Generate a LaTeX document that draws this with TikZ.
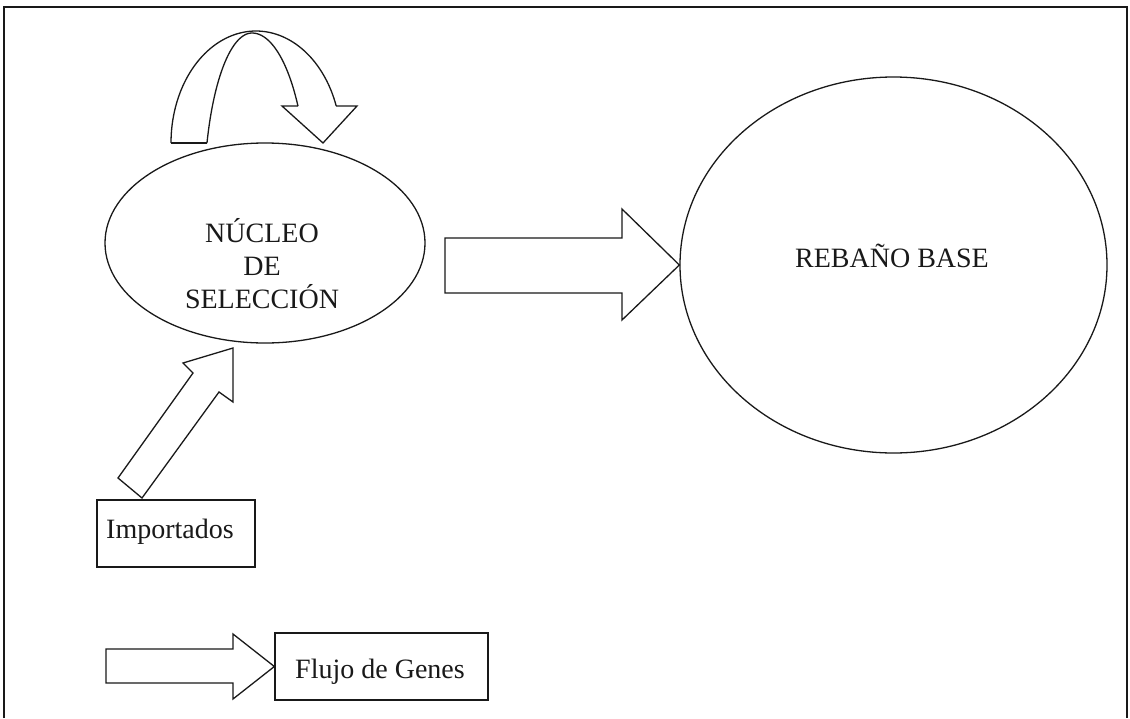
\documentclass[tikz,border=0pt]{standalone}
\usepackage{fontspec}
\setmainfont{Liberation Serif}
\usetikzlibrary{shapes.geometric}
\tikzset{
  shp/.style={draw=black!90, line width=1.3pt, line join=miter},
  ell/.style={shp, ellipse, inner sep=0pt},
  boxn/.style={shp, rectangle, inner sep=0pt},
  lbl/.style={font=\fontsize{28}{33}\selectfont, inner sep=0pt, anchor=base, text=black!90}
}
\begin{document}
\begin{tikzpicture}[x=1pt,y=-1pt]
\useasboundingbox (0,0) rectangle (1130,718);
% frame (open at the bottom)
\draw[shp, line width=1.5pt] (4,718) -- (4,7) -- (1127,7) -- (1127,718);

% main shapes
\node[ell, minimum width=320pt, minimum height=200pt] (nucleo) at (265,243) {};
\node[ell, minimum width=427pt, minimum height=376pt] (rebano) at (893.5,265) {};
\node[boxn, minimum width=158pt, minimum height=67pt] (import) at (176,533.5) {};
\node[boxn, minimum width=213pt, minimum height=67pt] (flujo) at (381.5,666.5) {};

% labels
\node[lbl] (t1) at (262,242) {NÚCLEO};
\node[lbl] (t2) at (262,275) {DE};
\node[lbl] (t3) at (262,308) {SELECCIÓN};
\node[lbl] (t4) at (892,267) {REBAÑO BASE};
\node[lbl] (t5) at (170,538) {Importados};
\node[lbl] (t6) at (380,678) {Flujo de Genes};

% block arrow: nucleo -> rebano
\draw[shp] (445,238) -- (622,238) -- (622,209) -- (rebano.west) -- (622,320) -- (622,293) -- (445,293) -- cycle;

% block arrow: legend
\draw[shp] (106,649) -- (233,649) -- (233,634) -- (flujo.west) -- (233,699) -- (233,683) -- (106,683) -- cycle;

% diagonal block arrow: importados -> nucleo
\coordinate (dtip) at (233,348);
\draw[shp] (142,498) -- (219,392) -- (233,402) -- (dtip) -- (183,363) -- (193,373) -- (118,478) -- cycle;

% curved arrow above the nucleus
\draw[shp] (171,143) -- (207,143);
\draw[shp] plot[domain=180:19.3, samples=80] ({256+85*cos(\x)},{143-112*sin(\x)});
\draw[shp] plot[domain=160.04:90, samples=40] ({252+47.9*cos(\x)},{200-167*sin(\x)})
  -- plot[domain=90:34.26, samples=40] ({252+55.6*cos(\x)},{200-167*sin(\x)});
\draw[shp] (298,106) -- (282,106) -- (323,143) -- (357,106) -- (336.2,106);
\end{tikzpicture}
\end{document}
